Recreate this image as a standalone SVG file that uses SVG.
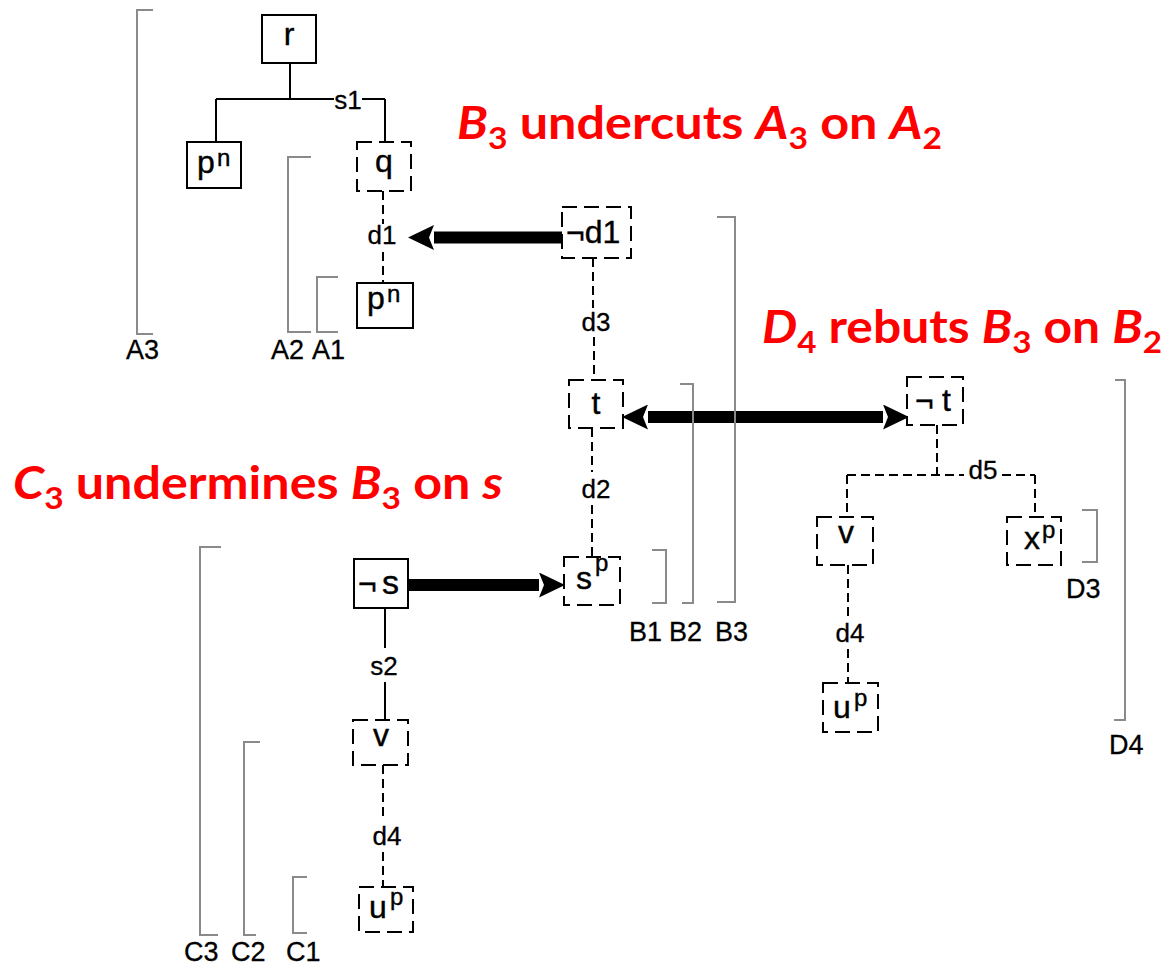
<svg xmlns="http://www.w3.org/2000/svg" width="1168" height="967" viewBox="0 0 1168 967">
<style>
.bg{fill:#fff}
.box{fill:#fff;stroke:#000;stroke-width:2}
.dbox{fill:#fff;stroke:#000;stroke-width:2;stroke-dasharray:15 7}
.nt{font-family:"Liberation Sans",Arial,sans-serif;font-size:32px;fill:#000;stroke:#000;stroke-width:0.4}
.sup{font-size:24px}
.el{font-family:"Liberation Sans",Arial,sans-serif;font-size:26px;fill:#000;text-anchor:middle;stroke:#000;stroke-width:0.3}
.sl{fill:none;stroke:#000;stroke-width:2}
.dl{fill:none;stroke:#000;stroke-width:2;stroke-dasharray:9 5}
.arr{fill:none;stroke:#000;stroke-width:12}
.br{fill:none;stroke:#8a8a8a;stroke-width:2}
.bl{font-family:"Liberation Sans",Arial,sans-serif;font-size:27px;fill:#000;stroke:#000;stroke-width:0.3}
.red{font-family:Lato,"Open Sans",sans-serif;font-weight:bold;font-size:45px;fill:#ff0000}
.it{font-style:italic}
</style>
<defs>
<marker id="ah" markerUnits="userSpaceOnUse" viewBox="0 0 26 25" markerWidth="26" markerHeight="25" refX="0" refY="12.5" orient="auto-start-reverse">
<path d="M0,0 L26,12.5 L0,25 L5,12.5 z" fill="#000"/>
</marker>
</defs>
<rect class="bg" x="0" y="0" width="1168" height="967"/>

<g id="connectors">
<path class="sl" d="M290,63 V99 M216,99 H334 M362,99 H385 M216,99 V142 M385,99 V142"/>
<text class="el" x="348" y="109">s1</text>
<path class="dl" d="M383,191 V224 M383,252 V283"/>
<text class="el" x="382" y="244">d1</text>
<path class="dl" d="M593,258 V308 M594,337 V380"/>
<text class="el" x="596" y="331">d3</text>
<path class="dl" d="M592,428 V472 M592,505 V557"/>
<text class="el" x="596" y="498">d2</text>
<path class="dl" d="M937,425 V475 M847,475 H964 M1002,475 H1035 M847,475 V517 M1035,475 V517"/>
<text class="el" x="983" y="479">d5</text>
<path class="dl" d="M848,565 V617 M848,649 V683"/>
<text class="el" x="850" y="642">d4</text>
<path class="sl" d="M385,608 V648 M385,682 V720"/>
<text class="el" x="384" y="675">s2</text>
<path class="dl" d="M383,765 V820 M383,852 V887"/>
<text class="el" x="387" y="845">d4</text>
<line class="arr" x1="562" y1="237.5" x2="434" y2="237.5" marker-end="url(#ah)"/>
<line class="arr" x1="648" y1="417" x2="883" y2="417" marker-start="url(#ah)" marker-end="url(#ah)"/>
<line class="arr" x1="408" y1="585" x2="539" y2="585" marker-end="url(#ah)"/>
</g>

<g id="n-r"><rect class="box" x="262" y="15" width="54" height="48"/><text class="nt" x="289" y="45" text-anchor="middle">r</text></g>
<g id="n-pn1"><rect class="box" x="187" y="142" width="54" height="46"/><text class="nt" x="197" y="173">p<tspan class="sup" x="217" dy="-7">n</tspan></text></g>
<g id="n-q"><rect class="dbox" x="357" y="142" width="54" height="49"/><text class="nt" x="384" y="172" text-anchor="middle">q</text></g>
<g id="n-pn2"><rect class="box" x="357" y="283" width="56" height="45"/><text class="nt" x="367" y="309">p<tspan class="sup" x="387" dy="-7">n</tspan></text></g>
<g id="n-nd1"><rect class="dbox" x="562" y="207" width="69" height="51"/><text class="nt" x="566" y="243">¬d1</text></g>
<g id="n-t"><rect class="dbox" x="569" y="380" width="54" height="48"/><text class="nt" x="596" y="414" text-anchor="middle">t</text></g>
<g id="n-nt"><rect class="dbox" x="907" y="377" width="56" height="48"/><text class="nt" x="915" y="411">¬<tspan x="942">t</tspan></text></g>
<g id="n-sp"><rect class="dbox" x="564" y="557" width="56" height="48"/><text class="nt" x="576" y="589" font-size="34">s<tspan class="sup" x="595" dy="-18">p</tspan></text></g>
<g id="n-ns"><rect class="box" x="354" y="559" width="54" height="49"/><text class="nt" x="358" y="594">¬<tspan x="382" font-size="34">s</tspan></text></g>
<g id="n-v1"><rect class="dbox" x="353" y="720" width="55" height="45"/><text class="nt" x="381" y="746" text-anchor="middle" font-size="28">v</text></g>
<g id="n-up1"><rect class="dbox" x="359" y="887" width="54" height="45"/><text class="nt" x="369" y="918" font-size="36">u<tspan class="sup" x="390" dy="-13">p</tspan></text></g>
<g id="n-v2"><rect class="dbox" x="817" y="517" width="56" height="48"/><text class="nt" x="846" y="543" text-anchor="middle" font-size="30">v</text></g>
<g id="n-xp"><rect class="dbox" x="1007" y="517" width="54" height="48"/><text class="nt" x="1024" y="549">x<tspan class="sup" x="1042" dy="-11">p</tspan></text></g>
<g id="n-up2"><rect class="dbox" x="823" y="683" width="55" height="49"/><text class="nt" x="833" y="718" font-size="36">u<tspan class="sup" x="854" dy="-12">p</tspan></text></g>

<g id="brackets">
<path class="br" d="M153,10 H137 V334 H153"/>
<path class="br" d="M311,157 H288 V332 H311"/>
<path class="br" d="M338,277 H317 V332 H338"/>
<path class="br" d="M652,550 H666 V603 H652"/>
<path class="br" d="M680,384 H693 V603 H682"/>
<path class="br" d="M717,217 H735 V602 H717"/>
<path class="br" d="M221,547 H200 V935 H218"/>
<path class="br" d="M260,742 H244 V935 H256"/>
<path class="br" d="M307,877 H293 V933 H307"/>
<path class="br" d="M1082,510 H1097 V562 H1082"/>
<path class="br" d="M1115,380 H1125 V720 H1114"/>
<text class="bl" x="126" y="359">A3</text>
<text class="bl" x="271" y="359">A2</text>
<text class="bl" x="312" y="359">A1</text>
<text class="bl" x="629" y="641">B1</text>
<text class="bl" x="669" y="641">B2</text>
<text class="bl" x="715" y="641">B3</text>
<text class="bl" x="184" y="961">C3</text>
<text class="bl" x="231" y="961">C2</text>
<text class="bl" x="286" y="961">C1</text>
<text class="bl" x="1066" y="598">D3</text>
<text class="bl" x="1109" y="754">D4</text>
</g>

<g id="annotations">
<text class="red" x="457" y="139" textLength="485" lengthAdjust="spacingAndGlyphs"><tspan class="it">B</tspan><tspan font-size="30" dy="10">3</tspan><tspan dy="-10"> undercuts </tspan><tspan class="it">A</tspan><tspan font-size="30" dy="10">3</tspan><tspan dy="-10"> on </tspan><tspan class="it">A</tspan><tspan font-size="30" dy="10">2</tspan></text>
<text class="red" x="762" y="343" textLength="400" lengthAdjust="spacingAndGlyphs"><tspan class="it">D</tspan><tspan font-size="30" dy="10">4</tspan><tspan dy="-10"> rebuts </tspan><tspan class="it">B</tspan><tspan font-size="30" dy="10">3</tspan><tspan dy="-10"> on </tspan><tspan class="it">B</tspan><tspan font-size="30" dy="10">2</tspan></text>
<text class="red" x="13" y="499" textLength="490" lengthAdjust="spacingAndGlyphs"><tspan class="it">C</tspan><tspan font-size="30" dy="10">3</tspan><tspan dy="-10"> undermines </tspan><tspan class="it">B</tspan><tspan font-size="30" dy="10">3</tspan><tspan dy="-10"> on </tspan><tspan class="it">s</tspan></text>
</g>
</svg>
